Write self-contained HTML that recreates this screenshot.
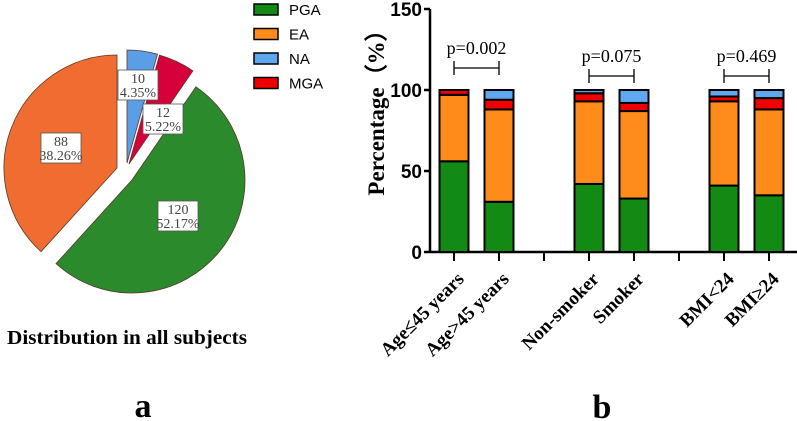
<!DOCTYPE html>
<html><head><meta charset="utf-8"><style>
body{margin:0;background:#fff;width:797px;height:421px;overflow:hidden}
svg{display:block}
</style></head><body>
<svg id="fig" width="797" height="421" xmlns="http://www.w3.org/2000/svg">
<g id="pie"></g>
<g id="legend"></g>
<text x="127" y="344" text-anchor="middle" font-family="Liberation Serif, serif" font-weight="bold" font-size="20" textLength="240" lengthAdjust="spacingAndGlyphs">Distribution in all subjects</text>
<text x="143" y="417" text-anchor="middle" font-family="Liberation Serif, serif" font-weight="bold" font-size="34">a</text>
<text x="602" y="418" text-anchor="middle" font-family="Liberation Serif, serif" font-weight="bold" font-size="34">b</text>
<g id="bar"></g>
</svg>
<script>
const pieNames=["PGA","EA","NA","MGA"];
const pieCounts=[120,88,10,12];
const piePct=["52.17%","38.26%","4.35%","5.22%"];
const barCats=["Age≤45 years","Age>45 years","","Non-smoker","Smoker","","BMI<24","BMI≥24"];
const pga=[56,31,null,42,33,null,41,35];
const ea=[41,57,null,51,54,null,52,53];
const mga=[3,6,null,5,5,null,3,7];
const na=[0,6,null,2,8,null,4,5];
const yTicks=[0,50,100,150];
const pvals=["p=0.002","p=0.075","p=0.469"];

const NS="http://www.w3.org/2000/svg";
function mk(t,a,p){const e=document.createElementNS(NS,t);for(const k in a)e.setAttribute(k,a[k]);p.appendChild(e);return e;}
const colors={PGA:"#2b8a2b",EA:"#f06c30",NA:"#5b9ee8",MGA:"#d6003a"};
const legColors={PGA:"#138a13",EA:"#ff8c1a",NA:"#5fa8f0",MGA:"#f00000"};
const pie=document.getElementById('pie');
const total=pieCounts.reduce((a,b)=>a+b,0);
const order=[2,3,0,1];
const apex={0:[132,180],1:[117,168],2:[127,163],3:[129,164]};
const lab={0:[178,216],1:[61,148],2:[138,85],3:[163,119]};
let ang=0;const R=113;
order.forEach(i=>{
  const a0=ang, a1=ang+pieCounts[i]/total*360; ang=a1;
  const [cx,cy]=apex[i];
  const p=(a)=>[cx+R*Math.sin(a*Math.PI/180),cy-R*Math.cos(a*Math.PI/180)];
  const s=p(a0),e=p(a1);
  const path=mk('path',{d:`M${cx},${cy}L${s[0]},${s[1]}A${R},${R} 0 ${a1-a0>180?1:0} 1 ${e[0]},${e[1]}Z`,fill:colors[pieNames[i]],stroke:"#5a3a2a","stroke-width":0.8},pie);
  
  
});
order.forEach(i=>{
  const [x,y]=lab[i];
  const g=mk('g',{},pie);
  
  
  mk('rect',{x:x-20,y:y-15,width:40,height:30,fill:"#fff",stroke:"#555","stroke-width":0.8},g);
  mk('text',{x:x,y:y-2,"text-anchor":"middle","font-family":"Liberation Serif, serif","font-size":14,fill:"#444"},g).textContent=pieCounts[i];
  mk('text',{x:x,y:y+12,"text-anchor":"middle","font-family":"Liberation Serif, serif","font-size":14,fill:"#444"},g).textContent=piePct[i];
});
const leg=document.getElementById('legend');
pieNames.forEach((n,k)=>{
  const y=9+k*24.5;
  const g=mk('g',{},leg);
  
  
  mk('rect',{x:254,y:y-5,width:24,height:11,fill:legColors[n],stroke:"#000","stroke-width":1.5},g);
  mk('text',{x:289,y:y+6,"font-family":"Liberation Sans, sans-serif","font-size":15,fill:"#000"},g).textContent=n;
});
const bar=document.getElementById('bar');
const y0=252,ppu=(252-9)/150;
const yS=v=>y0-v*ppu;
const xL=430;
const xC=i=>454+i*((769-454)/7);
mk('line',{x1:xL,y1:yS(0),x2:xL,y2:yS(150),stroke:"#000","stroke-width":2.5},bar);
mk('line',{x1:xL,y1:y0,x2:797,y2:y0,stroke:"#000","stroke-width":2.5},bar);
yTicks.forEach(t=>{
  mk('line',{x1:xL-6,y1:yS(t),x2:xL,y2:yS(t),stroke:"#000","stroke-width":2.5},bar);
  const tx=mk('text',{x:xL-8,y:yS(t)+7,"text-anchor":"end","font-family":"Liberation Sans, sans-serif","font-weight":"bold","font-size":19},bar);
  tx.textContent=t;
  
  
});
const yt=mk('text',{transform:`translate(384,107) rotate(-90)`,"text-anchor":"middle","font-family":"Liberation Serif, serif","font-weight":"bold","font-size":23},bar);
yt.textContent="Percentage（%）";


const segColors=[legColors.PGA,legColors.EA,legColors.MGA,legColors.NA];
barCats.forEach((c,i)=>{
  const x=xC(i);
  mk('line',{x1:x,y1:y0,x2:x,y2:y0+9,stroke:"#000","stroke-width":2},bar);
  if(pga[i]===null)return;
  let acc=0;
  [pga[i],ea[i],mga[i],na[i]].forEach((v,k)=>{
    if(v<=0)return;
    const r=mk('rect',{x:x-14.5,y:yS(acc+v),width:29,height:v*ppu,fill:segColors[k],stroke:"#000","stroke-width":2},bar);
    
    
    acc+=v;
  });
  const t=mk('text',{transform:`translate(${x+11},${y0+28}) rotate(-45)`,"text-anchor":"end","font-family":"Liberation Serif, serif","font-weight":"bold","font-size":19},bar);
  t.textContent=c;
  
  
});
const brY=[68,76,76];
pvals.forEach((p,k)=>{
  const a=xC(k*3),b=xC(k*3+1),y=brY[k];
  const g=mk('g',{},bar);
  
  
  mk('path',{d:`M${a},${y-7}V${y+7}M${a},${y}H${b}M${b},${y-7}V${y+7}`,stroke:"#000","stroke-width":1.3,fill:"none"},g);
  mk('text',{x:(a+b)/2,y:y-14,"text-anchor":"middle","font-family":"Liberation Serif, serif","font-size":18},g).textContent=p;
});
</script>
</body></html>
